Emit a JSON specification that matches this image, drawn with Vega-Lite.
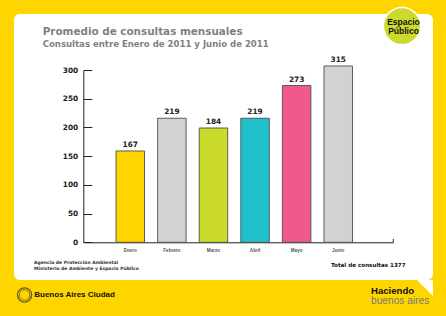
{
  "$schema": "https://vega.github.io/schema/vega-lite/v6.json",
  "width": 419,
  "height": 266,
  "autosize": {"type": "none"},
  "padding": {"left": 14, "top": 14, "right": 13, "bottom": 36},
  "background": "#FFD500",
  "config": {
    "view": {"fill": "white", "stroke": null, "cornerRadius": 6},
    "font": "Liberation Sans"
  },
  "title": {
    "text": "Promedio de consultas mensuales",
    "subtitle": "Consultas entre Enero de 2011 y Junio de 2011",
    "anchor": "start",
    "frame": "group",
    "orient": "top",
    "dx": 28.7,
    "offset": -44,
    "font": "DejaVu Sans",
    "fontSize": 10.4,
    "fontWeight": "bold",
    "color": "#7f7f7f",
    "subtitleFont": "DejaVu Sans",
    "subtitleFontSize": 8.55,
    "subtitleFontWeight": "bold",
    "subtitleColor": "#7f7f7f",
    "subtitlePadding": 2
  },
  "data": {
    "values": [
      {"mes": "Enero", "consultas": 167, "altura": 159},
      {"mes": "Febrero", "consultas": 219, "altura": 216},
      {"mes": "Marzo", "consultas": 184, "altura": 199},
      {"mes": "Abril", "consultas": 219, "altura": 216},
      {"mes": "Mayo", "consultas": 273, "altura": 273},
      {"mes": "Junio", "consultas": 315, "altura": 307}
    ]
  },
  "layer": [
    {
      "mark": {"type": "bar", "stroke": "#4d4d4d", "strokeWidth": 0.9},
      "encoding": {
        "x": {
          "field": "mes",
          "type": "nominal",
          "title": null,
          "scale": {
            "domain": ["Enero", "Febrero", "Marzo", "Abril", "Mayo", "Junio"],
            "range": [69.3, 379.3],
            "paddingInner": 0.315,
            "paddingOuter": 0.884,
            "align": 0.445
          },
          "axis": {
            "title": null,
            "orient": "bottom",
            "offset": -37.7,
            "domain": true,
            "domainColor": "#222222",
            "domainWidth": 1,
            "ticks": false,
            "grid": false,
            "labelAngle": 0,
            "labelPadding": 5.5,
            "labelFont": "Liberation Sans",
            "labelFontWeight": "bold",
            "labelFontSize": 4.6,
            "labelColor": "#555555"
          }
        },
        "y": {
          "field": "altura",
          "type": "quantitative",
          "title": null,
          "scale": {"domain": [0, 300], "range": [228.3, 56], "nice": false, "zero": false},
          "axis": {
            "title": null,
            "orient": "left",
            "offset": -69.3,
            "values": [0, 50, 100, 150, 200, 250, 300],
            "domain": true,
            "domainColor": "#222222",
            "domainWidth": 1,
            "grid": false,
            "ticks": true,
            "tickSize": -8.5,
            "tickColor": "#222222",
            "tickWidth": 1,
            "labelPadding": 14.1,
            "labelFont": "DejaVu Sans",
            "labelFontWeight": "bold",
            "labelFontSize": 7.4,
            "labelColor": "#1a1a1a"
          }
        },
        "y2": {"datum": 0},
        "color": {
          "field": "mes",
          "type": "nominal",
          "scale": {
            "domain": ["Enero", "Febrero", "Marzo", "Abril", "Mayo", "Junio"],
            "range": ["#FFD500", "#D1D2D4", "#CBDB2A", "#1FBFCB", "#EF5A8A", "#D1D2D4"]
          },
          "legend": null
        }
      }
    },
    {
      "mark": {"type": "text", "baseline": "alphabetic", "dy": -4, "font": "DejaVu Sans", "fontWeight": "bold", "fontSize": 7.4, "color": "#222222"},
      "encoding": {
        "x": {"field": "mes", "type": "nominal", "title": null},
        "y": {"field": "altura", "type": "quantitative", "title": null},
        "text": {"field": "consultas", "type": "quantitative"}
      }
    },
    {
      "data": {"values": [{}]},
      "mark": {"type": "rule", "color": "#222222", "strokeWidth": 1},
      "encoding": {
        "x": {"datum": "Junio", "type": "nominal", "bandPosition": 2.43, "title": null},
        "y": {"datum": 0, "type": "quantitative", "title": null},
        "y2": {"datum": 6}
      }
    },
    {
      "data": {"values": [{}]},
      "mark": {"type": "point", "shape": "M -1 -1 L 1 -1 L 1 1 Z", "filled": true, "size": 256, "fill": "white", "opacity": 1, "strokeWidth": 0},
      "encoding": {
        "x": {"datum": "Junio", "type": "nominal", "bandPosition": 3.545, "title": null},
        "y": {"datum": -79.6, "type": "quantitative", "title": null}
      }
    },
    {
      "data": {"values": [{}]},
      "mark": {"type": "text", "align": "left", "baseline": "middle", "font": "DejaVu Sans", "fontWeight": "bold", "fontSize": 4.5, "lineHeight": 6.1, "color": "#333333", "text": ["Agencia de Protección Ambiental", "Ministerio de Ambiente y Espacio Público"]},
      "encoding": {
        "x": {"datum": "Enero", "type": "nominal", "bandPosition": -2.878, "title": null},
        "y": {"datum": -35.6, "type": "quantitative", "title": null}
      }
    },
    {
      "data": {"values": [{}]},
      "mark": {"type": "text", "align": "left", "baseline": "middle", "font": "DejaVu Sans", "fontWeight": "bold", "fontSize": 5.6, "color": "#111111", "text": "Total de consultas 1377"},
      "encoding": {
        "x": {"datum": "Junio", "type": "nominal", "bandPosition": 0.246, "title": null},
        "y": {"datum": -39.5, "type": "quantitative", "title": null}
      }
    },
    {
      "data": {"values": [{}]},
      "mark": {"type": "point", "shape": "circle", "filled": false, "size": 201, "stroke": "#2a2a2a", "strokeWidth": 1.3},
      "encoding": {
        "x": {"datum": "Enero", "type": "nominal", "bandPosition": -3.21, "title": null},
        "y": {"datum": -91.7, "type": "quantitative", "title": null}
      }
    },
    {
      "data": {"values": [{}]},
      "mark": {"type": "point", "shape": "circle", "filled": false, "size": 110, "stroke": "#2a2a2a", "strokeWidth": 0.8},
      "encoding": {
        "x": {"datum": "Enero", "type": "nominal", "bandPosition": -3.21, "title": null},
        "y": {"datum": -91.7, "type": "quantitative", "title": null}
      }
    },
    {
      "data": {"values": [{}]},
      "mark": {"type": "text", "align": "left", "baseline": "middle", "font": "Liberation Sans", "fontWeight": "bold", "fontSize": 8, "color": "#111111", "text": "Buenos Aires Ciudad"},
      "encoding": {
        "x": {"datum": "Enero", "type": "nominal", "bandPosition": -2.87, "title": null},
        "y": {"datum": -91.2, "type": "quantitative", "title": null}
      }
    },
    {
      "data": {"values": [{}]},
      "mark": {"type": "text", "align": "left", "baseline": "middle", "font": "Liberation Sans", "fontWeight": "bold", "fontSize": 9.6, "color": "#111111", "text": "Haciendo"},
      "encoding": {
        "x": {"datum": "Junio", "type": "nominal", "bandPosition": 1.65, "title": null},
        "y": {"datum": -84.8, "type": "quantitative", "title": null}
      }
    },
    {
      "data": {"values": [{}]},
      "mark": {"type": "text", "align": "left", "baseline": "middle", "font": "Liberation Sans", "fontSize": 10.2, "color": "#777777", "text": "buenos aires"},
      "encoding": {
        "x": {"datum": "Junio", "type": "nominal", "bandPosition": 1.65, "title": null},
        "y": {"datum": -101.7, "type": "quantitative", "title": null}
      }
    },
    {
      "data": {"values": [{}]},
      "mark": {"type": "point", "shape": "circle", "filled": true, "size": 1385, "fill": "#CCDA2E", "opacity": 1, "stroke": "white", "strokeWidth": 1.5},
      "encoding": {
        "x": {"datum": "Junio", "type": "nominal", "bandPosition": 2.738, "title": null},
        "y": {"datum": 376.6, "type": "quantitative", "title": null}
      }
    },
    {
      "data": {"values": [{}]},
      "mark": {"type": "text", "align": "center", "baseline": "middle", "font": "Liberation Sans", "fontWeight": "bold", "fontSize": 8.5, "color": "#111111", "text": "Espacio"},
      "encoding": {
        "x": {"datum": "Junio", "type": "nominal", "bandPosition": 2.79, "title": null},
        "y": {"datum": 383.3, "type": "quantitative", "title": null}
      }
    },
    {
      "data": {"values": [{}]},
      "mark": {"type": "text", "align": "center", "baseline": "middle", "font": "Liberation Sans", "fontWeight": "bold", "fontSize": 8.5, "color": "#111111", "text": "Público"},
      "encoding": {
        "x": {"datum": "Junio", "type": "nominal", "bandPosition": 2.79, "title": null},
        "y": {"datum": 368.3, "type": "quantitative", "title": null}
      }
    }
  ]
}
